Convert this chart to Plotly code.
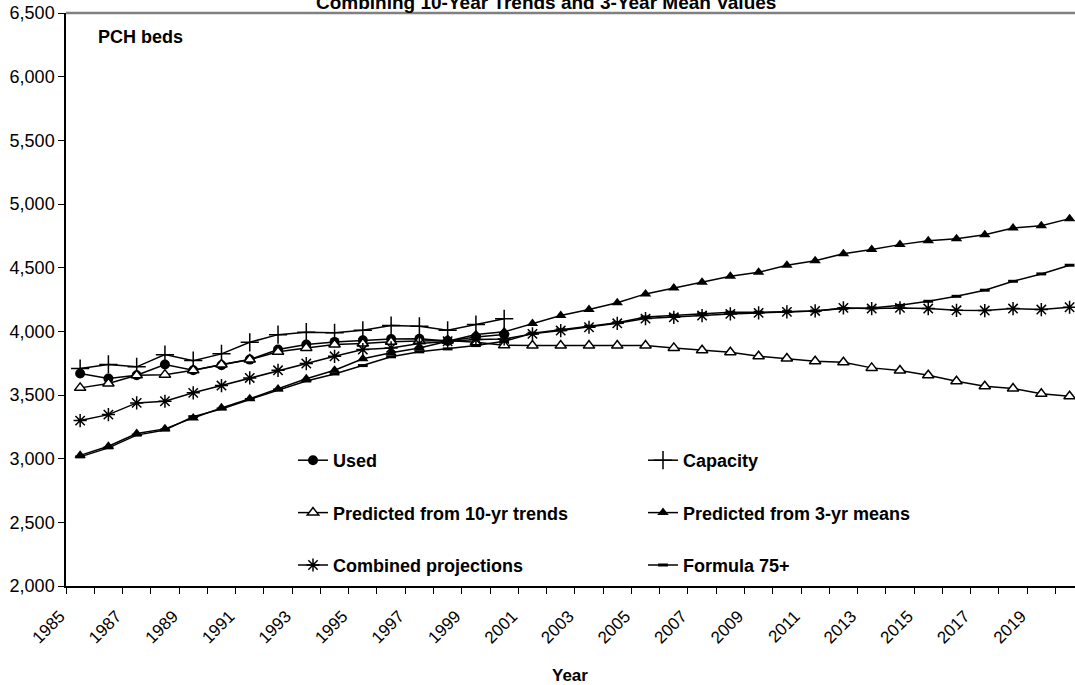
import plotly.graph_objects as go

years = list(range(1985, 2021))
hist_years = list(range(1985, 2001))

used = [3669, 3629, 3655, 3740, 3694, 3734, 3778, 3857, 3896, 3917,
        3930, 3940, 3942, 3925, 3955, 3975]
capacity = [3708, 3740, 3721, 3817, 3770, 3823, 3914, 3974, 3993, 3988,
            4008, 4045, 4040, 4008, 4053, 4098]
pred_10yr = [3556, 3590, 3655, 3660, 3694, 3740, 3778, 3839, 3870, 3896,
             3905, 3918, 3925, 3928, 3915, 3890, 3888, 3888, 3888,
             3888, 3888, 3870, 3852, 3836, 3804, 3786, 3765, 3757, 3713,
             3692, 3655, 3608, 3569, 3551, 3509, 3490]
pred_3yr = [3026, 3098, 3197, 3234, 3320, 3399, 3470, 3548, 3627, 3694,
            3784, 3831, 3870, 3922, 3975, 3996, 4061, 4124, 4171, 4225,
            4294, 4341, 4385, 4432, 4464, 4519, 4555, 4610, 4642, 4681,
            4712, 4728, 4759, 4812, 4830, 4885]
combined = [3299, 3346, 3438, 3451, 3517, 3574, 3634, 3694, 3747, 3804,
            3857, 3870, 3904, 3922, 3935, 3940, 3980, 4006, 4032, 4063,
            4100, 4110, 4124, 4137, 4145, 4153, 4160, 4184, 4179, 4184,
            4179, 4165, 4163, 4179, 4171, 4189]
formula75 = [3014, 3085, 3185, 3225, 3330, 3390, 3465, 3540, 3610, 3665,
             3731, 3800, 3839, 3862, 3888, 3922, 3985, 4012, 4040, 4068,
             4113, 4126, 4139, 4150, 4150, 4155, 4160, 4180, 4184, 4204,
             4236, 4275, 4323, 4393, 4451, 4519]

label_years = list(range(1985, 2020, 2))

FONT = "Liberation Sans, Arial, sans-serif"
BLK = "#000000"

W, H = 1075, 685
L, R, T, B = 66, 0, 13, 99
plot_w = W - L - R
plot_h = H - T - B
px_per_year = 28.27


def py(yp):
    return 1 - (yp - T) / plot_h


def pxx(xp):
    return (xp - L) / plot_w


fig = go.Figure()
line = dict(color=BLK, width=1.5)

fig.add_trace(go.Scatter(
    x=hist_years, y=used, name="Used", mode="lines+markers", line=line,
    marker=dict(symbol="circle", size=10, color=BLK),
    legend="legend", legendgroup="a", legendrank=1))
fig.add_trace(go.Scatter(
    x=hist_years, y=capacity, name="Capacity", mode="lines+markers", line=line,
    marker=dict(symbol="cross-thin-open", size=13, line=dict(color=BLK, width=1.5)),
    legend="legend2", legendgroup="b", legendrank=1))
fig.add_trace(go.Scatter(
    x=years, y=pred_10yr, name="Predicted from 10-yr trends", mode="lines+markers", line=line,
    marker=dict(symbol="triangle-up", size=10, color="white", line=dict(color=BLK, width=1.5)),
    legend="legend", legendgroup="c", legendrank=2))
fig.add_trace(go.Scatter(
    x=years, y=pred_3yr, name="Predicted from 3-yr means", mode="lines+markers", line=line,
    marker=dict(symbol="triangle-up", size=10, color=BLK),
    legend="legend2", legendgroup="d", legendrank=2))
fig.add_trace(go.Scatter(
    x=years, y=combined, name="Combined projections", mode="lines+markers", line=line,
    marker=dict(symbol="asterisk-open", size=11, line=dict(color=BLK, width=1.5)),
    legend="legend", legendgroup="e", legendrank=3))
fig.add_trace(go.Scatter(
    x=years, y=formula75, name="Formula 75+", mode="lines+markers", line=line,
    marker=dict(symbol="line-ew-open", size=7, line=dict(color=BLK, width=3)),
    legend="legend2", legendgroup="f", legendrank=3))

x0 = 1984.5
x1 = x0 + plot_w / px_per_year

leg_common = dict(
    font=dict(family=FONT, size=18, color=BLK, weight="bold"),
    bgcolor="rgba(0,0,0,0)", borderwidth=0,
    tracegroupgap=26, xanchor="left", yanchor="top",
    xref="paper", yref="paper", orientation="v",
)

fig.update_layout(
    width=W, height=H,
    margin=dict(l=L, r=R, t=T, b=B, pad=0),
    paper_bgcolor="white", plot_bgcolor="white",
    font=dict(family=FONT, color=BLK),
    showlegend=True,
    legend=dict(x=pxx(293), y=py(442), **leg_common),
    legend2=dict(x=pxx(643), y=py(442), **leg_common),
    xaxis=dict(
        range=[x0, x1], showgrid=False, zeroline=False,
        showline=True, linecolor=BLK, linewidth=1.5,
        tickmode="array", tickvals=[y - 0.5 for y in label_years],
        ticktext=[str(y) for y in label_years], tickangle=-45,
        ticks="", ticklabelstandoff=12, ticklabelshift=-6,
        tickfont=dict(family=FONT, size=17, color=BLK),
        minor=dict(tickmode="linear", tick0=x0, dtick=1, ticks="outside",
                   ticklen=6, tickwidth=1, tickcolor=BLK, showgrid=False),
    ),
    yaxis=dict(
        range=[2000, 6500], showgrid=False, zeroline=False,
        showline=True, linecolor=BLK, linewidth=1.5,
        tickmode="linear", tick0=2000, dtick=500, tickformat=",d",
        ticks="outside", ticklen=6, tickwidth=1, tickcolor=BLK,
        tickfont=dict(family=FONT, size=18, color=BLK),
    ),
    shapes=[dict(type="line", xref="paper", yref="paper", x0=0, x1=1, y0=1, y1=1,
                 line=dict(color="#808080", width=2.5))],
    annotations=[
        dict(text="Combining 10-Year Trends and 3-Year Mean Values",
             xref="paper", yref="paper", x=pxx(546), y=1, xanchor="center",
             yanchor="middle", yshift=11, showarrow=False,
             font=dict(family=FONT, size=19, color=BLK, weight="bold")),
        dict(text="PCH beds", xref="paper", yref="paper", x=pxx(96), y=py(37),
             xanchor="left", yanchor="middle", showarrow=False,
             font=dict(family=FONT, size=18, color=BLK, weight="bold")),
        dict(text="Year", xref="paper", yref="paper", x=pxx(570), y=py(675),
             xanchor="center", yanchor="middle", showarrow=False,
             font=dict(family=FONT, size=17, color=BLK, weight="bold")),
    ],
)

fig.write_html("out.html")
